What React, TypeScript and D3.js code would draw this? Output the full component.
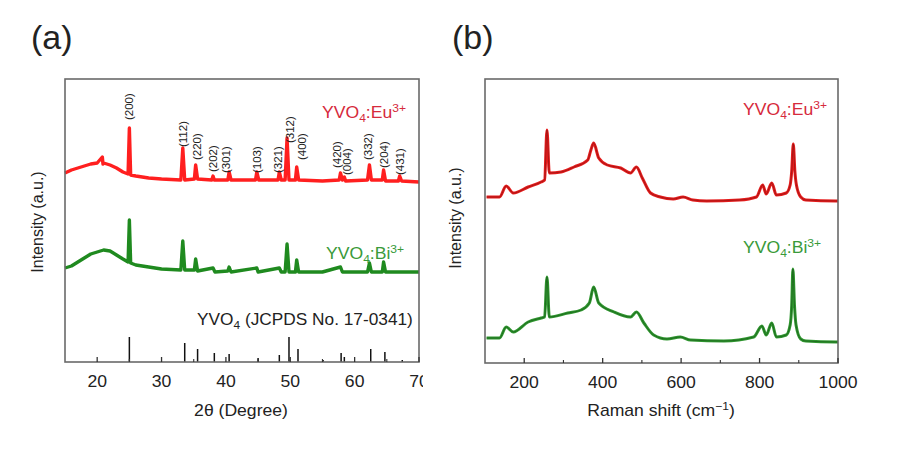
import React from "react";
import * as d3 from "d3";

// ---------- Panel (a): XRD ----------
const xrdTheta = [15,16,17,18,19,20,20.8,20.9,21,22,23,24,24.8,25.0,25.2,26,28,30,33.0,33.3,33.6,35.1,35.3,35.6,37.8,38.0,38.2,40.3,40.5,40.8,44.6,44.8,45.1,48.1,48.3,48.6,49.2,49.5,49.8,50.8,51.0,51.3,55,57.6,57.8,58.1,58.4,58.6,62.0,62.3,62.6,64.3,64.5,64.8,66.8,67.0,67.3,70];
const xrdEu = [189,192,194,196,198,199,205,198,199,197,194,190,188,234,187,186,184,183,182,214,182,183,197,183,182,186,182,182,190,182,182,190,182,182,190,182,182,224,182,182,195,182,181,182,189,182,185,181,182,197,182,182,192,181,181,186,181,180];

const xrdThetaBi = [15,16,17,18,19,20,21,22,23,24,24.8,25.0,25.2,26,28,30,33.0,33.3,33.6,35.1,35.3,35.6,38.0,38.3,40.3,40.5,40.8,44.8,45.0,48.3,48.6,49.2,49.5,49.8,50.8,51.0,51.3,55,57.8,58.1,62.0,62.3,62.6,64.3,64.5,64.8,70];
const xrdBi = [94,96,100,104,108,110,112,111,107,103,100,142,99,97,95,93,92,121,92,92,103,91,94,90,91,95,90,94,90,94,90,90,118,90,90,102,90,90,95,90,90,99,90,90,100,90,90];

const refTheta = [25.0,33.6,35.6,38.2,40.5,45.0,48.3,49.8,51.2,55.1,57.9,58.4,62.5,64.7,67.4];
const refHeight = [25,19,13,9,8,4,7,25,13,2,9,5,13,10,2];

const hklLabels = ["(200)","(112)","(220)","(202)","(301)","(103)","(321)","(312)","(400)","(420)","(004)","(332)","(204)","(431)"];
const hklTheta = [25.0,33.3,35.5,38.0,40.0,44.8,48.1,50.0,51.8,57.3,58.8,62.1,64.5,67.1];
const hklLevel = [242,215,202,190,189,189,189,219,202,194,187,202,194,187];

const xrdMajorTicks = [20,30,40,50,60,70];
const xrdMinorTicks = [25,35,45,55,65];

// ---------- Panel (b): Raman ----------
const ramanShiftEu = [104,137,154,172,210,243,252,258,264,294,327,362,370,377,390,412,446,471,486,501,522,547,580,605,630,665,749,792,808,817,831,843,868,878,882,886,890,894,905,918,995,1000];
const ramanEu = [166,166,177,170,176,181,183,233,190,191,196,203,213,220,205,198,195,190,196,185,170,166,164,166,163,162,163,166,178,169,180,168,170,178,192,219,192,178,166,163,162,162];

const ramanShiftBi = [104,137,154,172,210,243,252,258,264,311,345,366,377,390,429,471,486,505,530,564,598,624,709,785,806,817,831,843,868,878,882,885,889,893,905,918,995,1000];
const ramanBi = [25,25,36,31,41,45,46,86,46,50,53,60,76,60,51,46,51,40,28,24,26,23,22,26,37,28,40,26,28,38,58,94,58,38,24,22,21,21];

const ramanMajorTicks = [200,400,600,800,1000];
const ramanMinorTicks = [300,500,700,900];

const FONT = "'Liberation Sans', Arial, Helvetica, sans-serif";

function SText(props: any) {
  const { x, y, sx = 1.1, anchor = "start", size = 16, fill = "#222", children } = props;
  return (
    <g transform={`translate(${x},${y}) scale(${sx},1)`}>
      <text x={0} y={0} textAnchor={anchor} fontSize={size} fill={fill} fontFamily={FONT}>
        {children}
      </text>
    </g>
  );
}

function Formula(props: any) {
  const { x, y, dopant, fill } = props;
  return (
    <SText x={x} y={y} fill={fill} size={16} sx={1.1}>
      YVO<tspan dy={4} fontSize={11}>4</tspan>
      <tspan dy={-4}>:{dopant}</tspan>
      <tspan dy={-6} fontSize={11}>3+</tspan>
    </SText>
  );
}

export default function App() {
  const xA = d3.scaleLinear().domain([15, 70]).range([65, 419]);
  const yA = d3.scaleLinear().domain([0, 283]).range([362, 79]);
  const xB = d3.scaleLinear().domain([100, 1000]).range([485, 838]);
  const yB = d3.scaleLinear().domain([0, 283]).range([363, 80]);

  const lineA = (xs: number[], ys: number[]) =>
    d3.line<number>().x((_, i) => xA(xs[i])).y((d) => yA(d)).curve(d3.curveLinear)(ys) || "";
  const lineB = (xs: number[], ys: number[]) =>
    d3.line<number>().x((_, i) => xB(xs[i])).y((d) => yB(d)).curve(d3.curveMonotoneX)(ys) || "";

  const frame = "#6a6a6a";

  return (
    <svg width={901} height={449} style={{ position: "absolute", left: 0, top: 0, background: "#fff" }}>
      <defs>
        <clipPath id="clipA">
          <rect x={0} y={0} width={423} height={449} />
        </clipPath>
      </defs>
      <rect x={0} y={0} width={901} height={449} fill="#fff" />

      {/* Panel labels */}
      <text x={31} y={49} fontSize={34} fontFamily={FONT} fill="#222">(a)</text>
      <text x={452} y={49} fontSize={34} fontFamily={FONT} fill="#222">(b)</text>

      {/* ---------- Panel (a) ---------- */}
      <g clipPath="url(#clipA)">
        <path d={lineA(xrdTheta, xrdEu)} fill="none" stroke="#ff1f1f" strokeWidth={3.4} strokeLinejoin="round" />
        <path d={lineA(xrdThetaBi, xrdBi)} fill="none" stroke="#1f8a1f" strokeWidth={3.4} strokeLinejoin="round" />
        {refTheta.map((t, i) => (
          <line key={"r" + i} x1={xA(t)} x2={xA(t)} y1={yA(0)} y2={yA(refHeight[i])} stroke="#111" strokeWidth={1.5} />
        ))}
        {hklLabels.map((l, i) => (
          <text key={"h" + i} transform={`translate(${xA(hklTheta[i]) + 4},${yA(hklLevel[i])}) rotate(-90)`}
            fontSize={11.5} fontFamily={FONT} fill="#222">{l}</text>
        ))}
        <rect x={65} y={79} width={354} height={283} fill="none" stroke={frame} strokeWidth={1.6} />
        {xrdMajorTicks.map((t) => (
          <line key={"mt" + t} x1={xA(t)} x2={xA(t)} y1={362} y2={357} stroke="#333" strokeWidth={1.3} />
        ))}
        {xrdMinorTicks.map((t) => (
          <line key={"nt" + t} x1={xA(t)} x2={xA(t)} y1={362} y2={359} stroke="#333" strokeWidth={1.1} />
        ))}
        {xrdMajorTicks.map((t) => (
          <SText key={"tl" + t} x={xA(t)} y={387} anchor="middle" size={16}>{t}</SText>
        ))}
        <Formula x={322} y={118} dopant="Eu" fill="#d62a3c" />
        <Formula x={326} y={259} dopant="Bi" fill="#3a9a3a" />
        <SText x={197} y={325} size={16} sx={1.08} fill="#222">
          YVO<tspan dy={4} fontSize={11}>4</tspan><tspan dy={-4}> (JCPDS No. 17-0341)</tspan>
        </SText>
      </g>
      <SText x={241} y={416} anchor="middle" size={16}>2θ (Degree)</SText>
      <text transform="translate(43,222) rotate(-90)" textAnchor="middle" fontSize={16} fontFamily={FONT} fill="#222">
        Intensity (a.u.)
      </text>

      {/* ---------- Panel (b) ---------- */}
      <path d={lineB(ramanShiftEu, ramanEu)} fill="none" stroke="#e51c1c" strokeWidth={3} strokeLinejoin="round" />
      <path d={lineB(ramanShiftEu, ramanEu)} fill="none" stroke="#7a1010" strokeWidth={1} strokeOpacity={0.55} />
      <path d={lineB(ramanShiftBi, ramanBi)} fill="none" stroke="#2f962f" strokeWidth={3} strokeLinejoin="round" />
      <path d={lineB(ramanShiftBi, ramanBi)} fill="none" stroke="#134d13" strokeWidth={1} strokeOpacity={0.55} />
      <rect x={485} y={79} width={353} height={284} fill="none" stroke={frame} strokeWidth={1.6} />
      {ramanMajorTicks.map((t) => (
        <line key={"bm" + t} x1={xB(t)} x2={xB(t)} y1={363} y2={358} stroke="#333" strokeWidth={1.3} />
      ))}
      {ramanMinorTicks.map((t) => (
        <line key={"bn" + t} x1={xB(t)} x2={xB(t)} y1={363} y2={360} stroke="#333" strokeWidth={1.1} />
      ))}
      {ramanMajorTicks.map((t) => (
        <SText key={"bl" + t} x={xB(t)} y={388} anchor="middle" size={16}>{t}</SText>
      ))}
      <Formula x={743} y={115} dopant="Eu" fill="#d62a3c" />
      <Formula x={743} y={253} dopant="Bi" fill="#3a9a3a" />
      <SText x={661} y={416} anchor="middle" size={16}>
        Raman shift (cm<tspan dy={-6} fontSize={11}>−1</tspan><tspan dy={6}>)</tspan>
      </SText>
      <text transform="translate(461,218) rotate(-90)" textAnchor="middle" fontSize={16} fontFamily={FONT} fill="#222">
        Intensity (a.u.)
      </text>
    </svg>
  );
}
